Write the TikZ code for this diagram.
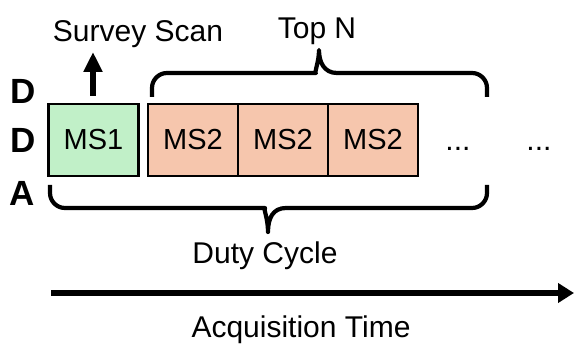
\documentclass[tikz,border=0pt]{standalone}
\usepackage{fontspec}
\setmainfont{Liberation Sans}
\usetikzlibrary{arrows.meta}

\definecolor{surveyfill}{HTML}{C1F0C8}
\definecolor{msfill}{HTML}{F6C6AD}

\tikzset{
  lbl/.style={inner sep=0pt, anchor=base, font=\fontsize{30}{32}\selectfont},
  ddalbl/.style={inner sep=0pt, anchor=base west, font=\fontsize{35}{37}\selectfont\bfseries},
  scanbox/.style={draw=black, line width=2.8pt, minimum width=90pt, minimum height=72pt,
                  inner sep=0pt, font=\fontsize{29}{31}\selectfont},
  msone/.style={scanbox, fill=surveyfill},
  mstwo/.style={scanbox, fill=msfill},
  brace/.style={line width=4.2pt, line join=round},
  upar/.style={line width=6pt, -{Triangle[length=20pt,width=18pt]}},
  timeaxis/.style={line width=6pt, -{Triangle[length=16pt,width=19pt]}},
}

\begin{document}
\begin{tikzpicture}[x=1pt, y=-1pt]
  \useasboundingbox (0,0) rectangle (574,345);

  % DDA letters on the left
  \node[ddalbl] (d1) at (10,103) {D};
  \node[ddalbl] (d2) at (10,153) {D};
  \node[ddalbl] (a1) at (9,205) {A};

  % scan blocks
  \node[msone] (ms1) at (93.5,140) {MS1};
  \node[mstwo] (ms2a) at (193,140) {MS2};
  \node[mstwo] (ms2b) at (283,140) {MS2};
  \node[mstwo] (ms2c) at (373,140) {MS2};

  % continuation dots
  \node[lbl] (dots1) at (458,151) {...};
  \node[lbl] (dots2) at (539,151) {...};

  % survey scan label and arrow
  \node[lbl] (survey) at (138,42) {Survey Scan};
  \coordinate (surveytip) at (93,52);
  \draw[upar] ([xshift=-0.5pt,yshift=7pt]ms1.north) -- (surveytip);

  % Top N brace
  \node[lbl] (topn) at (317,39) {Top N};
  \draw[brace] (152,97) {[rounded corners=15pt] -- (152,73) -- (301,73)}
    .. controls (314,73) and (319,62) .. (319,50)
    .. controls (319,62) and (324,73) .. (337,73)
    {[rounded corners=15pt] -- (487,73) -- (487,97)};

  % duty cycle brace
  \node[lbl] (duty) at (265,263) {Duty Cycle};
  \draw[brace] (50,185) {[rounded corners=15pt] -- (50,208) -- (250,208)}
    .. controls (263,208) and (268,218) .. (268,232)
    .. controls (268,218) and (273,208) .. (286,208)
    {[rounded corners=15pt] -- (487,208) -- (487,185)};

  % time axis
  \coordinate (t0) at (51,293);
  \coordinate (t1) at (574,293);
  \draw[timeaxis] (t0) -- (t1);
  \node[lbl] (acq) at (301,337) {Acquisition Time};
\end{tikzpicture}
\end{document}
